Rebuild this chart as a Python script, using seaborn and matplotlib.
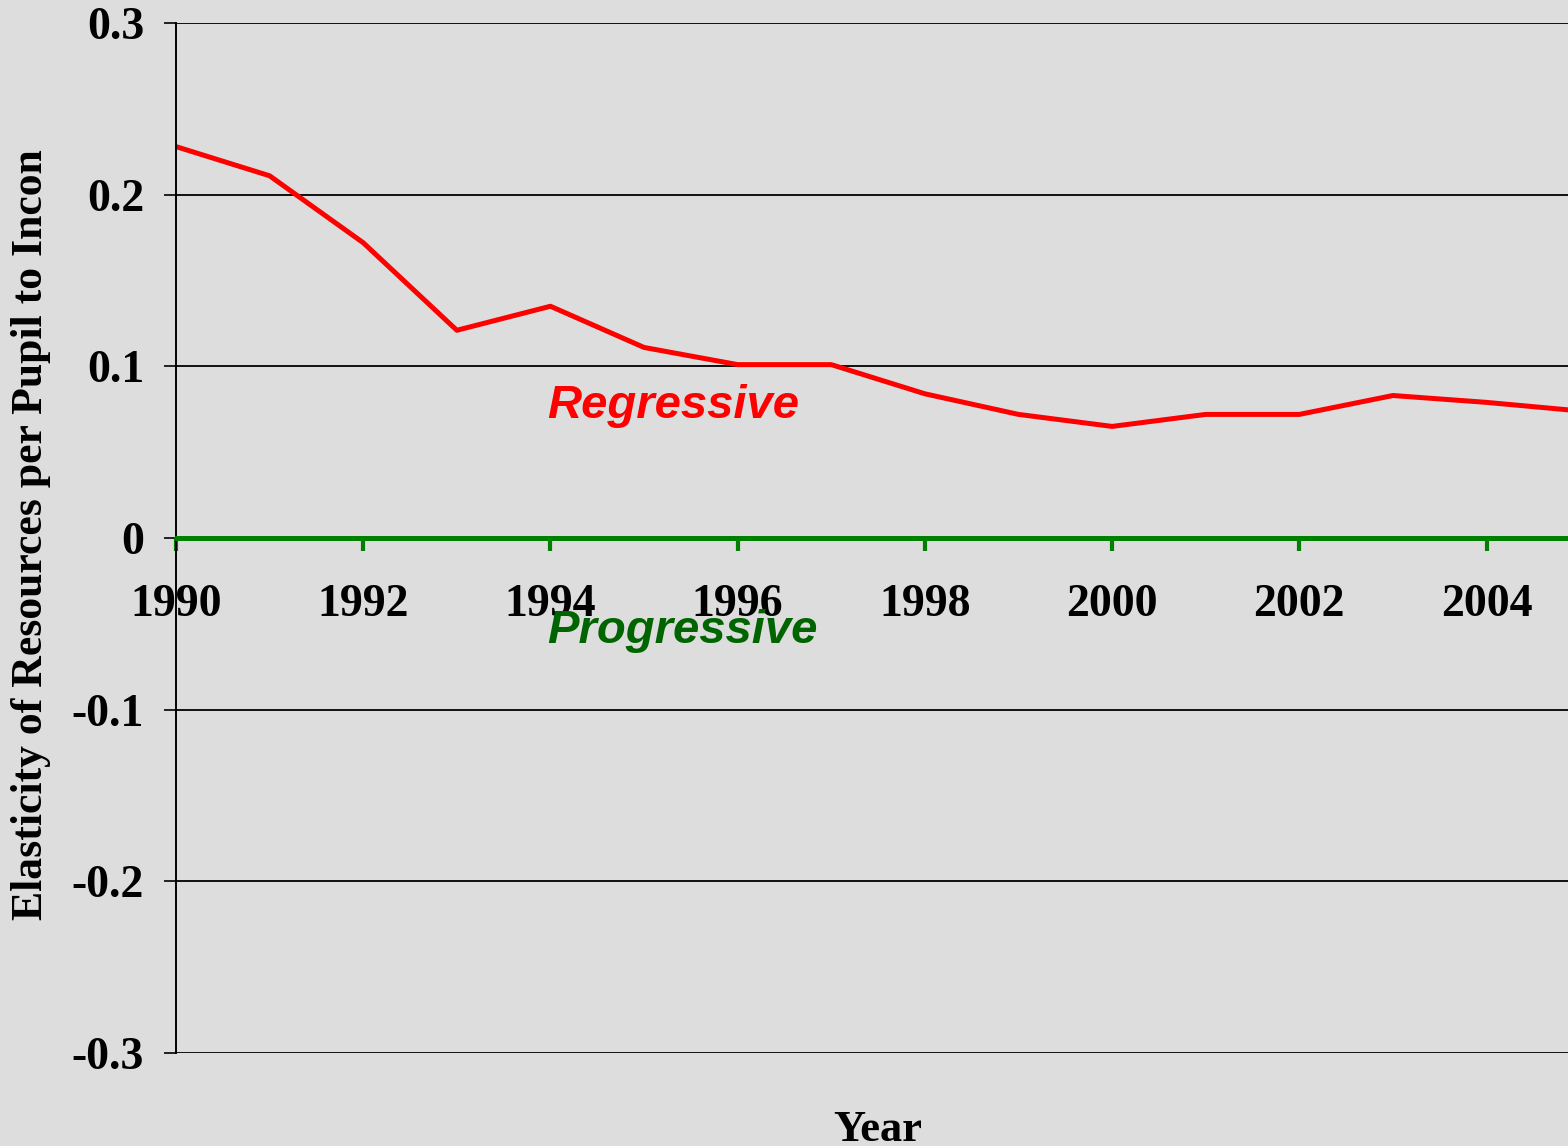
import matplotlib
matplotlib.use("Agg")
import matplotlib.pyplot as plt
import pandas as pd
import seaborn as sns

# Elasticity of resources per pupil to income, by year
years = [1990, 1991, 1992, 1993, 1994, 1995, 1996, 1997, 1998, 1999,
         2000, 2001, 2002, 2003, 2004, 2005]
elasticity = [0.228, 0.211, 0.172, 0.121, 0.135, 0.111, 0.101, 0.101, 0.084, 0.072,
              0.065, 0.072, 0.072, 0.083, 0.079, 0.074]
x_ticks = [1990, 1992, 1994, 1996, 1998, 2000, 2002, 2004]
y_ticks = [-0.3, -0.2, -0.1, 0, 0.1, 0.2, 0.3]
y_tick_labels = ["-0.3", "-0.2", "-0.1", "0", "0.1", "0.2", "0.3"]

BG = "#dddddd"
RED = "#ff0000"
GREEN = "#008000"
DARK_GREEN = "#006400"

sns.set_style("white", rc={"axes.facecolor": BG, "figure.facecolor": BG})
plt.rcParams["font.family"] = ["Liberation Serif", "DejaVu Serif"]
plt.rcParams.update({"text.color": "black", "axes.labelcolor": "black",
                     "xtick.color": "black", "ytick.color": "black"})

df = pd.DataFrame({"year": years, "elasticity": elasticity})

fig = plt.figure(figsize=(15.68, 11.46), dpi=100)
ax = fig.add_axes([176 / 1568, 1 - 1053 / 1146, 1 - 176 / 1568, (1053 - 23) / 1146])

sns.lineplot(data=df, x="year", y="elasticity", color=RED, linewidth=3.6, ax=ax,
             solid_capstyle="round", solid_joinstyle="round")

ax.set_xlim(1990, 2004.87)
ax.set_ylim(-0.3, 0.3)

# horizontal grid lines
for v in y_ticks:
    if v != 0:
        ax.axhline(v, color="black", linewidth=1.3, zorder=0.5)

# green zero axis
ax.spines["bottom"].set_position(("data", 0))
ax.spines["bottom"].set_color(GREEN)
ax.spines["bottom"].set_linewidth(3.6)
ax.spines["bottom"].set_capstyle("round")
ax.spines["top"].set_visible(False)
ax.spines["right"].set_visible(False)
ax.spines["left"].set_color("black")
ax.spines["left"].set_linewidth(1.4)

ax.set_xticks(x_ticks)
ax.set_xticklabels([str(y) for y in x_ticks])
ax.tick_params(axis="x", bottom=True, direction="out", length=9, width=3, color=GREEN,
               pad=24, labelsize=33, labelcolor="black")
ax.set_yticks(y_ticks)
ax.set_yticklabels(y_tick_labels)
ax.tick_params(axis="y", left=True, direction="out", length=9, width=1.2, color="black",
               pad=14, labelsize=33, labelcolor="black")
for lab in ax.get_xticklabels() + ax.get_yticklabels():
    lab.set_fontweight("bold")

ax.set_xlabel("Year", fontsize=32, fontweight="bold")
ax.xaxis.set_label_coords(0.504, -0.055)
ax.set_ylabel("Elasticity of Resources per Pupil to Incon", fontsize=31.5, fontweight="bold")
ax.yaxis.set_label_coords(-0.09, 0.503)

ax.text(1993.96, 0.077, "Regressive", color=RED, fontsize=34, fontweight="bold",
        fontstyle="italic", family=["Liberation Sans", "DejaVu Sans"],
        ha="left", va="center")
ax.text(1993.96, -0.054, "Progressive", color=DARK_GREEN, fontsize=34, fontweight="bold",
        fontstyle="italic", family=["Liberation Sans", "DejaVu Sans"],
        ha="left", va="center")

fig.savefig("out.png", dpi=100, facecolor=BG)
